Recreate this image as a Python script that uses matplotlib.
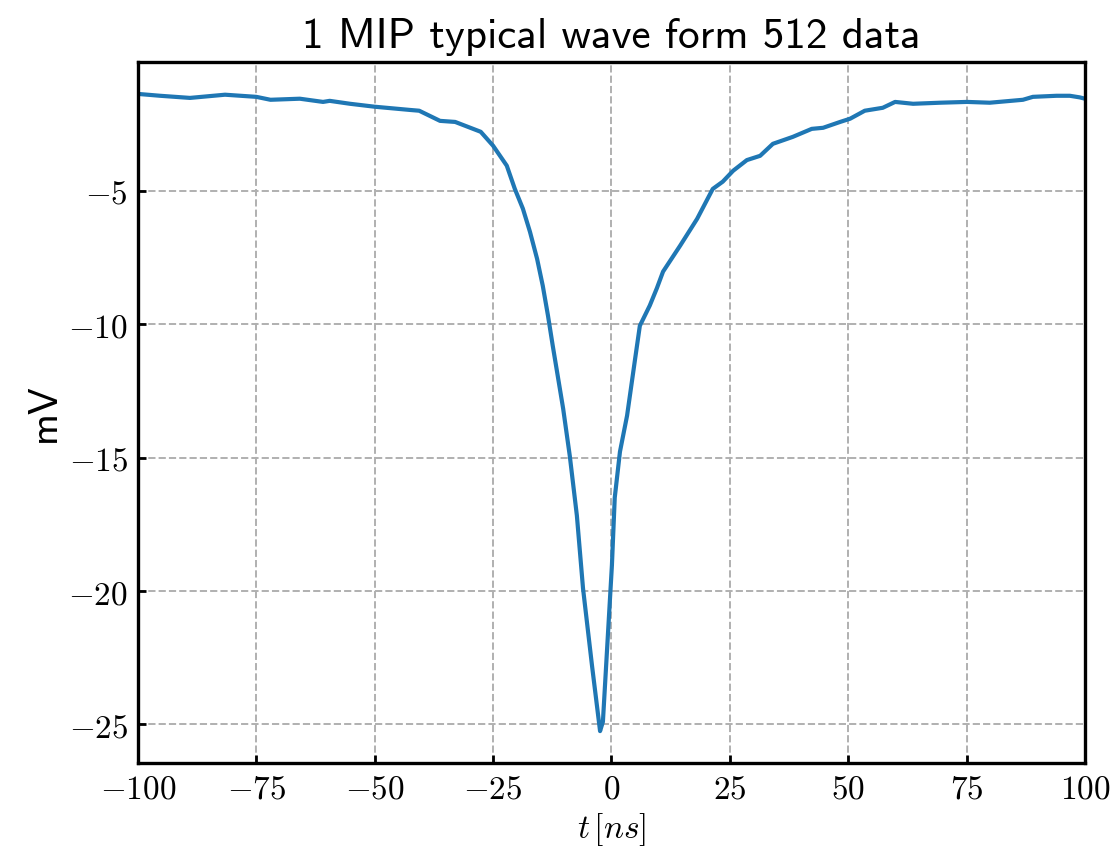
import numpy as np
import matplotlib
matplotlib.use("Agg")
from matplotlib import pyplot as plt
from matplotlib.ticker import FuncFormatter

# values (time in ns, amplitude in mV)
t_ns = [-100, -95.3, -89, -81.6, -75, -72, -65.8, -60.9, -59.5, -55.2,
        -50, -42.6, -40.6, -36.2, -33, -27.6, -25.0, -22.1, -20.4, -18.7,
        -17.2, -15.7, -14.5, -13.4, -12.4, -10.2, -8.8, -7.3, -6.0, -4.1,
        -2.4, -1.8, -0.7, 0.1, 0.7, 1.8, 3.3, 5.0, 6.0, 8.1,
        9.6, 10.9, 14.5, 18.1, 21.4, 23.5, 25.7, 28.6, 31.4, 34.1,
        38.3, 42.3, 44.7, 48.3, 50.4, 53.5, 57.3, 59.9, 63.7, 69.4,
        75.1, 79.9, 86.9, 89, 94, 96.8, 98.9, 100]
amp_mv = [-1.37, -1.44, -1.52, -1.40, -1.48, -1.59, -1.55, -1.67, -1.63, -1.74,
          -1.85, -1.97, -2.0, -2.38, -2.42, -2.79, -3.31, -4.06, -4.93, -5.67,
          -6.54, -7.55, -8.56, -9.68, -10.8, -13.16, -14.93, -17.17, -19.9, -22.8,
          -25.25, -24.9, -21.5, -19.04, -16.5, -14.78, -13.43, -11.3, -10.06, -9.3,
          -8.65, -8.03, -7.06, -6.05, -4.93, -4.66, -4.25, -3.85, -3.69, -3.24,
          -2.98, -2.68, -2.64, -2.42, -2.30, -2.0, -1.89, -1.67, -1.74, -1.70,
          -1.67, -1.70, -1.59, -1.48, -1.44, -1.44, -1.50, -1.55]

x_ticks = [-100, -75, -50, -25, 0, 25, 50, 75, 100]
y_ticks = [-25, -20, -15, -10, -5]

plt.rcParams['mathtext.fontset'] = 'cm'
plt.rcParams['xtick.direction'] = 'in'
plt.rcParams['ytick.direction'] = 'in'

fig = plt.figure(figsize=(5.56, 4.25), dpi=200)
ax = fig.add_axes([0.124, 0.1024, 0.8517, 0.8246])
ax.plot(t_ns, amp_mv, color='#1f77b4', lw=1.5)

ax.set_xlim(-100, 100)
ax.set_xticks(x_ticks)
ax.set_yticks(y_ticks)
math_fmt = FuncFormatter(lambda v, pos: r'$%g$' % v)
ax.xaxis.set_major_formatter(math_fmt)
ax.yaxis.set_major_formatter(math_fmt)
ax.tick_params(labelsize=12, width=1.0, length=3)
for s in ax.spines.values():
    s.set_linewidth(1.2)

ax.grid(True, linestyle='--', color='#b0b0b0', lw=0.7)
ax.set_axisbelow(True)

ax.set_title('1 MIP typical wave form 512 data', fontfamily='cmss10', fontsize=15.5, pad=5)
ax.set_ylabel('mV', fontfamily='cmss10', fontsize=14.5, labelpad=2)
ax.set_xlabel(r'$t\,[ns]$', fontsize=12, labelpad=2)

fig.savefig('out.png', dpi=200)
